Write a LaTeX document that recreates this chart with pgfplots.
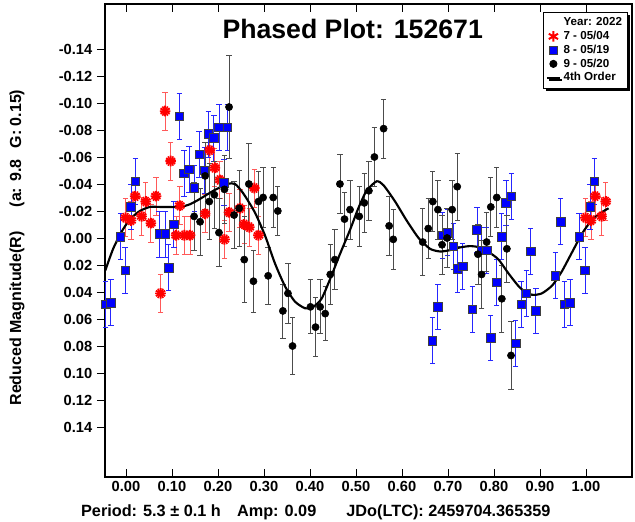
\documentclass[border=0pt]{standalone}
\usepackage{fontspec}
\setmainfont{Liberation Sans}
\usepackage{pgfplots}
\pgfplotsset{compat=1.18}
\usepackage{pgfplotstable}
\usetikzlibrary{shadows}

% session 7 - 05/04
\pgfplotstableread{
x y e
-0.001 -0.015 0.014
0.011 -0.013 0.014
0.020 -0.031 0.014
0.034 -0.016 0.014
0.043 -0.027 0.014
0.054 -0.011 0.014
0.065 -0.031 0.014
0.075 0.041 0.014
0.085 -0.094 0.014
0.097 -0.057 0.014
0.109 -0.002 0.014
0.117 -0.024 0.014
0.127 -0.002 0.014
0.139 -0.002 0.014
0.172 -0.018 0.014
0.182 -0.065 0.014
0.193 -0.052 0.014
0.204 -0.043 0.014
0.214 0.001 0.014
0.224 -0.019 0.014
0.248 -0.022 0.014
0.257 -0.010 0.014
0.268 -0.008 0.014
0.279 -0.037 0.014
0.288 -0.002 0.014
0.999 -0.015 0.014
1.011 -0.013 0.014
1.020 -0.031 0.014
1.034 -0.016 0.014
1.043 -0.027 0.014
}\sessA

% session 8 - 05/19
\pgfplotstableread{
x y e
-0.044 0.049 0.017
-0.033 0.048 0.017
-0.012 -0.001 0.017
-0.002 0.024 0.017
0.011 -0.023 0.017
0.020 -0.042 0.017
0.072 -0.003 0.017
0.085 -0.003 0.017
0.093 0.022 0.017
0.104 -0.010 0.017
0.116 -0.090 0.017
0.126 -0.048 0.017
0.137 -0.051 0.017
0.149 -0.037 0.017
0.159 -0.062 0.017
0.170 -0.050 0.017
0.179 -0.077 0.017
0.191 -0.074 0.017
0.202 -0.082 0.017
0.213 -0.041 0.017
0.220 -0.082 0.017
0.666 0.076 0.017
0.678 0.051 0.017
0.688 -0.002 0.017
0.699 -0.004 0.017
0.712 0.006 0.017
0.720 0.023 0.017
0.732 0.021 0.017
0.753 0.053 0.017
0.763 -0.006 0.017
0.772 0.009 0.017
0.784 0.009 0.017
0.793 0.074 0.017
0.806 0.033 0.017
0.817 -0.001 0.017
0.826 -0.026 0.017
0.838 -0.031 0.017
0.847 0.078 0.017
0.859 0.049 0.017
0.870 0.041 0.017
0.880 0.010 0.017
0.891 0.054 0.017
0.933 0.028 0.017
0.945 -0.012 0.017
0.953 0.049 0.017
0.965 0.048 0.017
0.985 -0.001 0.017
0.998 0.024 0.017
1.009 -0.023 0.017
1.018 -0.042 0.017
}\sessB

% session 9 - 05/20
\pgfplotstableread{
x y e
0.148 -0.016 0.025
0.161 -0.012 0.025
0.172 -0.046 0.025
0.181 -0.027 0.028
0.192 -0.032 0.025
0.202 -0.004 0.025
0.214 -0.036 0.025
0.224 -0.097 0.038
0.235 -0.017 0.025
0.246 -0.022 0.028
0.257 0.016 0.032
0.267 -0.040 0.030
0.277 0.032 0.023
0.288 -0.027 0.022
0.298 -0.030 0.022
0.309 0.028 0.021
0.320 -0.030 0.022
0.330 -0.020 0.018
0.341 0.054 0.020
0.352 0.041 0.022
0.362 0.080 0.021
0.401 0.051 0.020
0.412 0.066 0.022
0.422 0.051 0.020
0.433 0.056 0.020
0.444 0.027 0.022
0.454 0.016 0.022
0.465 -0.040 0.022
0.475 -0.014 0.020
0.487 -0.021 0.022
0.507 -0.016 0.022
0.518 -0.026 0.022
0.528 -0.035 0.022
0.540 -0.060 0.022
0.560 -0.081 0.022
0.572 -0.009 0.022
0.581 0.001 0.022
0.645 0.003 0.025
0.657 -0.007 0.022
0.667 -0.027 0.022
0.678 -0.021 0.022
0.687 0.005 0.022
0.698 0.000 0.022
0.709 -0.021 0.022
0.720 -0.038 0.025
0.765 0.012 0.022
0.773 0.027 0.025
0.784 0.003 0.022
0.793 -0.023 0.022
0.806 -0.030 0.022
0.817 0.045 0.025
0.828 0.008 0.025
0.837 0.087 0.025
}\sessC

\begin{document}
\begin{tikzpicture}
\begin{axis}[
  name=ax,
  scale only axis,
  width=395.25pt, height=354.75pt,
  xmin=-0.0457, xmax=1.100,
  ymin=-0.1733, ymax=0.177,
  y dir=reverse,
  xtick={0,0.1,0.2,0.3,0.4,0.5,0.6,0.7,0.8,0.9,1.0},
  ytick={-0.14,-0.12,-0.10,-0.08,-0.06,-0.04,-0.02,0,0.02,0.04,0.06,0.08,0.10,0.12,0.14},
  xticklabel pos=lower,
  ytick pos=left,
  tick align=inside,
  major tick length=6pt,
  ytick style={xshift=-6pt},
  tick style={black, line width=0.6pt},
  axis line style={line width=0.9pt},
  /pgf/number format/fixed,
  /pgf/number format/fixed zerofill,
  /pgf/number format/precision=2,
  /pgf/number format/assume math mode=true,
  ticklabel style={font=\fontsize{11}{13}\selectfont\bfseries},
  yticklabel style={xshift=-6pt},
  legend style={at={(axis description cs:0.992,0.983)}, anchor=north east,
    font=\fontsize{8.7}{10}\selectfont\bfseries, draw=black, line width=0.6pt,
    fill=white, row sep=-1.5pt, inner sep=2pt,
    drop shadow={shadow xshift=1.8pt, shadow yshift=-1.8pt, fill=black, opacity=1},
    cells={anchor=west}},
  legend cell align=left,
  clip=false,
]
\addlegendimage{empty legend}
\addlegendentry{Year: 2022}

\addplot[only marks, mark=asterisk, red, mark size=4pt,
  mark options={line width=1.5pt},
  legend image code/.code={\draw[mark repeat=2, mark phase=2]
    plot coordinates {(0cm,0cm) (0.17cm,0cm) (0.34cm,0cm)};},
  error bars/.cd, y dir=both, y explicit,
  error bar style={red!65, line width=0.6pt},
  error mark options={red!65, line width=0.6pt, mark size=2pt, rotate=90}]
  table[x=x, y=y, y error=e]{\sessA};
\addlegendentry{7 - 05/04}
% second pass of the same stars, turned, for the burst look
\addplot[only marks, mark=asterisk, red, mark size=4pt, forget plot,
  mark options={line width=1.2pt, rotate=30}]
  table[x=x, y=y]{\sessA};

\addplot[only marks, mark=square*, mark size=3.2pt,
  mark options={fill=blue, draw=black!75, line width=0.5pt},
  legend image code/.code={\draw[mark repeat=2, mark phase=2]
    plot coordinates {(0cm,0cm) (0.17cm,0cm) (0.34cm,0cm)};},
  error bars/.cd, y dir=both, y explicit,
  error bar style={blue!85, line width=0.6pt},
  error mark options={blue!85, line width=0.6pt, mark size=2pt, rotate=90}]
  table[x=x, y=y, y error=e]{\sessB};
\addlegendentry{8 - 05/19}

\addplot[only marks, mark=*, mark size=2.7pt,
  mark options={fill=black, draw=black},
  legend image code/.code={\draw[mark repeat=2, mark phase=2]
    plot coordinates {(0cm,0cm) (0.17cm,0cm) (0.34cm,0cm)};},
  error bars/.cd, y dir=both, y explicit,
  error bar style={black!70, line width=0.6pt},
  error mark options={black!70, line width=0.6pt, mark size=2pt, rotate=90}]
  table[x=x, y=y, y error=e]{\sessC};
\addlegendentry{9 - 05/20}

% 4th order Fourier fit
\addplot[black, line width=1.6pt, smooth, tension=0.4, mark=none,
  legend image code/.code={\draw[line width=1.6pt] (0cm,0cm) -- (0.34cm,0cm);}]
  coordinates {
  (-0.045,0.024) (-0.028,0.008) (-0.009,-0.005) (0.009,-0.014) (0.030,-0.020)
  (0.052,-0.023) (0.074,-0.023) (0.117,-0.023) (0.139,-0.025) (0.161,-0.029)
  (0.190,-0.035) (0.220,-0.040) (0.237,-0.040) (0.255,-0.033) (0.280,-0.019)
  (0.302,-0.002) (0.324,0.019) (0.346,0.036) (0.367,0.047) (0.389,0.052)
  (0.407,0.051) (0.425,0.045) (0.443,0.031) (0.465,0.012) (0.487,-0.006)
  (0.505,-0.022) (0.523,-0.035) (0.545,-0.042) (0.560,-0.039) (0.585,-0.027)
  (0.610,-0.013) (0.636,0.000) (0.661,0.008) (0.683,0.010) (0.704,0.009)
  (0.726,0.007) (0.748,0.006) (0.770,0.007) (0.791,0.011) (0.810,0.016)
  (0.831,0.026) (0.857,0.037) (0.882,0.042) (0.904,0.041) (0.927,0.035)
  (0.947,0.025) (0.969,0.011) (0.991,-0.003) (1.012,-0.013) (1.034,-0.019)
  (1.049,-0.022)
};
\addlegendentry{4th Order}

\node[font=\fontsize{20}{23}\selectfont\bfseries] at (axis description cs:0.47,0.947)
  {Phased Plot: 152671};
\node[font=\fontsize{12.2}{14}\selectfont\bfseries] at (axis description cs:0.40,-0.074)
  {Period: 5.3 ± 0.1 h\hspace{1em}Amp: 0.09\hspace{1.85em}JDo(LTC): 2459704.365359};
\node[font=\fontsize{12}{14}\selectfont\bfseries, rotate=90] at (axis description cs:-0.167,0.485)
  {Reduced Magnitude(R)\hspace{1.5em}(a: 9.8\hspace{0.7em}G: 0.15)};
\end{axis}
\pgfresetboundingbox
\path ([shift={(-78.75pt,-33.75pt)}]ax.south west) rectangle ([shift={(2.25pt,3pt)}]ax.north east);
\end{tikzpicture}
\end{document}
